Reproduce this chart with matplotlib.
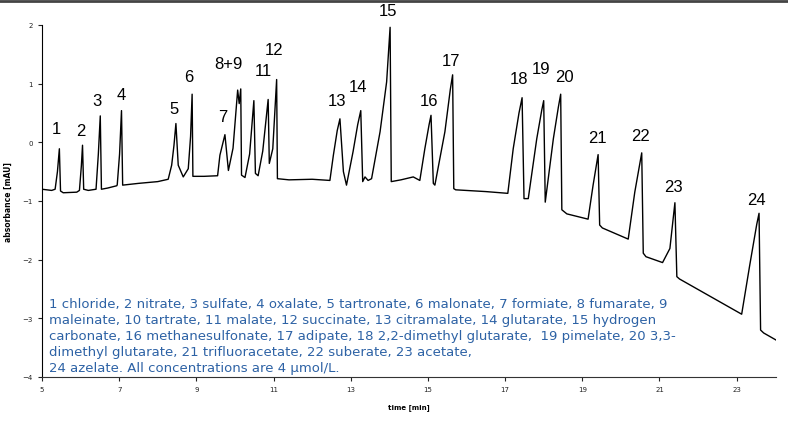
import matplotlib
matplotlib.use("Agg")
import matplotlib.pyplot as plt
from matplotlib.lines import Line2D

# trace vertices: time [min], absorbance [mAU]
time = [5.00, 5.25, 5.34, 5.40, 5.45, 5.48, 5.55, 5.90, 5.97, 6.02, 6.05, 6.08, 6.20, 6.40, 6.46, 6.51,
        6.54, 6.70, 6.94, 6.95, 7.01, 7.06, 7.09, 7.50, 8.00, 8.27, 8.36, 8.42, 8.47, 8.53, 8.66, 8.79,
        8.85, 8.89, 8.91, 9.20, 9.55, 9.61, 9.74, 9.83, 9.95, 10.07, 10.11, 10.15, 10.17, 10.26, 10.38,
        10.49, 10.53, 10.60, 10.72, 10.86, 10.89, 10.98, 11.08, 11.10, 11.40, 12.00, 12.46, 12.55,
        12.65, 12.72, 12.81, 12.89, 13.06, 13.18, 13.26, 13.31, 13.37, 13.45, 13.54, 13.76, 13.93,
        14.02, 14.05, 14.30, 14.62, 14.79, 14.92, 15.03, 15.08, 15.14, 15.18, 15.44, 15.58, 15.64,
        15.67, 15.72, 16.50, 17.07, 17.21, 17.36, 17.44, 17.49, 17.60, 17.82, 17.95, 18.00, 18.04,
        18.25, 18.38, 18.44, 18.47, 18.60, 19.15, 19.28, 19.41, 19.45, 19.52, 20.19, 20.36, 20.54,
        20.58, 20.65, 21.08, 21.27, 21.40, 21.45, 21.52, 23.13, 23.34, 23.52, 23.58, 23.62, 23.70,
        24.02]
absorbance = [-0.80, -0.82, -0.80, -0.50, -0.11, -0.83, -0.86, -0.85, -0.82, -0.40, -0.05, -0.80, -0.82,
              -0.80, -0.20, 0.45, -0.80, -0.78, -0.74, -0.72, -0.20, 0.54, -0.73, -0.70, -0.67, -0.63,
              -0.39, -0.05, 0.32, -0.39, -0.59, -0.45, 0.10, 0.82, -0.58, -0.58, -0.57, -0.22, 0.13,
              -0.48, -0.10, 0.89, 0.66, 0.91, -0.56, -0.60, -0.20, 0.71, -0.53, -0.57, -0.15, 0.73,
              -0.36, -0.11, 1.07, -0.62, -0.64, -0.63, -0.65, -0.22, 0.20, 0.40, -0.50, -0.73, -0.16,
              0.30, 0.54, -0.67, -0.59, -0.65, -0.62, 0.18, 1.03, 1.96, -0.67, -0.64, -0.59, -0.65,
              -0.11, 0.30, 0.46, -0.70, -0.73, 0.18, 0.90, 1.15, -0.79, -0.81, -0.84, -0.87, -0.11,
              0.50, 0.76, -0.96, -0.96, 0.06, 0.55, 0.71, -1.02, 0.06, 0.60, 0.82, -1.15, -1.22, -1.31,
              -0.73, -0.21, -1.41, -1.46, -1.65, -0.85, -0.18, -1.89, -1.95, -2.05, -1.81, -1.03, -2.29,
              -2.33, -2.93, -2.09, -1.40, -1.21, -3.20, -3.25, -3.37]

# peak numbers and where they sit
peak_labels = ["1", "2", "3", "4", "5", "6", "7", "8+9", "11", "12", "13", "14", "15", "16",
               "17", "18", "19", "20", "21", "22", "23", "24"]
label_x = [5.38, 6.01, 6.42, 7.05, 8.42, 8.81, 9.69, 9.84, 10.73, 11.01, 12.64, 13.19, 13.96,
           15.03, 15.60, 17.36, 17.93, 18.55, 19.38, 20.52, 21.35, 23.50]
label_y = [0.23, 0.20, 0.72, 0.81, 0.57, 1.12, 0.44, 1.34, 1.23, 1.59, 0.71, 0.95, 2.24, 0.71,
           1.40, 1.08, 1.25, 1.13, 0.08, 0.11, -0.76, -0.98]

x_ticks = [5, 7, 9, 11, 13, 15, 17, 19, 21, 23]
y_ticks = [2, 1, 0, -1, -2, -3, -4]

legend_text = ("1 chloride, 2 nitrate, 3 sulfate, 4 oxalate, 5 tartronate, 6 malonate, 7 formiate, 8 fumarate, 9\n"
               "maleinate, 10 tartrate, 11 malate, 12 succinate, 13 citramalate, 14 glutarate, 15 hydrogen\n"
               "carbonate, 16 methanesulfonate, 17 adipate, 18 2,2-dimethyl glutarate,  19 pimelate, 20 3,3-\n"
               "dimethyl glutarate, 21 trifluoracetate, 22 suberate, 23 acetate,\n"
               "24 azelate. All concentrations are 4 \u00b5mol/L.")

fig = plt.figure(figsize=(7.88, 4.27), dpi=100)
ax = fig.add_axes([0.0533, 0.1148, 0.9315, 0.8244])

ax.plot(time, absorbance, color="black", lw=1.0)

for lab, lx, ly in zip(peak_labels, label_x, label_y):
    ax.text(lx, ly, lab, ha="center", va="center", fontsize=12,
            family="Liberation Sans", clip_on=False)

ax.text(5.18, -3.95, legend_text, color="#2d62a5", fontsize=9.55, family="DejaVu Sans",
        ha="left", va="bottom", linespacing=1.3)

ax.set_xlim(5, 24.02)
ax.set_ylim(-4, 2)
ax.set_xticks(x_ticks)
ax.set_yticks(y_ticks)
ax.tick_params(labelsize=5, length=3, width=0.8, colors="#222222")
ax.spines["top"].set_visible(False)
ax.spines["right"].set_visible(False)
ax.spines["left"].set_color("black")
ax.spines["bottom"].set_color("#333333")

ax.set_xlabel("time [min]", fontsize=5, fontweight="bold", labelpad=8)
ax.set_ylabel("absorbance [mAU]", fontsize=5.5, fontweight="bold", labelpad=7)

# dark rule along the top edge of the picture
fig.add_artist(Line2D([0, 1], [0.996, 0.996], transform=fig.transFigure,
                      color="#444444", lw=2))

fig.savefig("out.png", dpi=100)
